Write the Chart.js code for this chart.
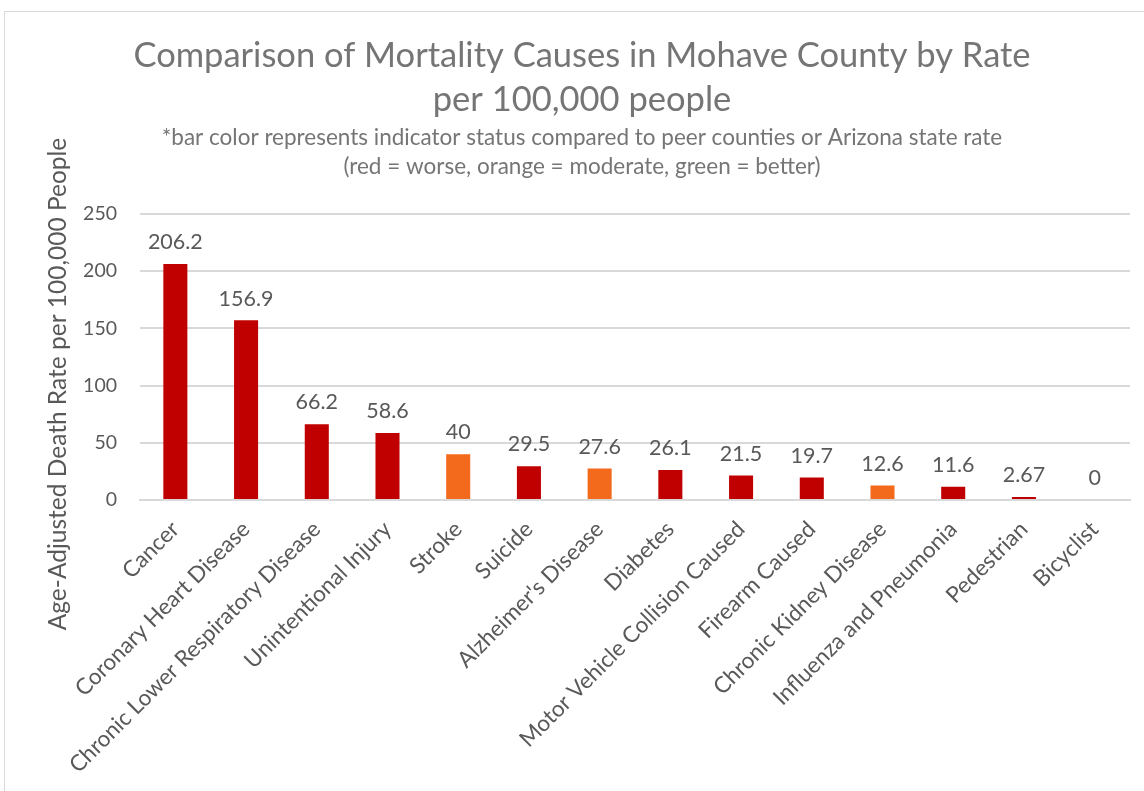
<!DOCTYPE html>
<html>
<head>
<meta charset="utf-8">
<script src="https://cdn.jsdelivr.net/npm/chart.js@4.4.1/dist/chart.umd.min.js"></script>
<style>
  html, body { margin: 0; padding: 0; background: #fff; overflow: hidden; }
  #frame { position: absolute; left: 4px; top: 11px; width: 1160px; height: 800px; border: 1px solid #d9d9d9; }
  #wrap { position: absolute; left: 0; top: 0; width: 1144px; height: 791px; }
</style>
</head>
<body>
<div id="frame"></div>
<div id="wrap"><canvas id="mortChart"></canvas></div>
<script>
// chart data
var causes = ["Cancer", "Coronary Heart Disease", "Chronic Lower Respiratory Disease", "Unintentional Injury",
  "Stroke", "Suicide", "Alzheimer's Disease", "Diabetes", "Motor Vehicle Collision Caused", "Firearm Caused",
  "Chronic Kidney Disease", "Influenza and Pneumonia", "Pedestrian", "Bicyclist"]
var rates = [206.2, 156.9, 66.2, 58.6, 40, 29.5, 27.6, 26.1, 21.5, 19.7, 12.6, 11.6, 2.67, 0]
var indicatorStatus = ["worse", "worse", "worse", "worse", "moderate", "worse", "moderate", "worse", "worse", "worse",
  "moderate", "worse", "worse", "worse"]
var yTicks = [0, 50, 100, 150, 200, 250]

var statusColors = { worse: "#C00000", moderate: "#F46A1D", better: "#70AD47" }
var barColors = indicatorStatus.map(function(s){ return statusColors[s] })

var textGray = "#595959"

// value labels above each bar
var valueLabels = {
  id: "valueLabels",
  afterDatasetsDraw: function(chart){
    var ctx = chart.ctx
    var meta = chart.getDatasetMeta(0)
    ctx.save()
    ctx.font = "21.5px Lato"
    ctx.fillStyle = textGray
    ctx.textAlign = "center"
    ctx.textBaseline = "bottom"
    meta.data.forEach(function(bar, i){
      ctx.fillText(String(rates[i]), bar.x, bar.y - 11)
    })
    ctx.restore()
  }
}

// y axis title, placed like the original (centred lower than the plot)
var yTitle = {
  id: "yTitle",
  afterDraw: function(chart){
    var ctx = chart.ctx
    ctx.save()
    ctx.translate(58, 384)
    ctx.rotate(-Math.PI / 2)
    ctx.font = "24.5px Lato"
    ctx.fillStyle = textGray
    ctx.textAlign = "center"
    ctx.textBaseline = "middle"
    ctx.fillText("Age-Adjusted Death Rate per 100,000 People", 0, 0)
    ctx.restore()
  }
}

var chart = new Chart(document.getElementById("mortChart").getContext("2d"), {
  type: "bar",
  data: {
    labels: causes,
    datasets: [
      {
        label: "Rate",
        data: rates,
        backgroundColor: barColors,
        barPercentage: 0.34,
        categoryPercentage: 1
      }
    ]
  },
  options: {
    responsive: true,
    maintainAspectRatio: false,
    animation: false,
    layout: { padding: { top: 33, right: 14, left: 34, bottom: 0 } },
    plugins: {
      legend: { display: false },
      tooltip: { enabled: false },
      title: {
        display: true,
        text: ["Comparison of Mortality Causes in Mohave County by Rate", "per 100,000 people"],
        color: "#757575",
        font: { family: "Lato", size: 34.5, weight: "normal", lineHeight: 1.3 },
        padding: { top: 0, bottom: 1 }
      },
      subtitle: {
        display: true,
        text: ["*bar color represents indicator status compared to peer counties or Arizona state rate",
          "(red = worse, orange = moderate, green = better)"],
        color: "#757575",
        font: { family: "Lato", size: 22.5, weight: "normal", lineHeight: 1.29 },
        padding: { top: 0, bottom: 32 }
      }
    },
    scales: {
      x: {
        grid: { display: false },
        border: { color: "#d9d9d9", width: 2 },
        ticks: {
          color: textGray,
          font: { family: "Lato", size: 22.5 },
          minRotation: 45,
          maxRotation: 45,
          autoSkip: false,
          padding: 8
        },
        afterFit: function(scale){ scale.height = 291 }
      },
      y: {
        min: 0,
        max: 250,
        afterBuildTicks: function(scale){ scale.ticks = yTicks.map(function(v){ return { value: v } }) },
        grid: { color: "#d9d9d9", lineWidth: 2, drawTicks: false },
        border: { display: false },
        ticks: {
          color: textGray,
          font: { family: "Lato", size: 19.5 },
          padding: 23
        },
        afterFit: function(scale){ scale.width = 106 }
      }
    }
  },
  plugins: [valueLabels, yTitle]
})
</script>
</body>
</html>
